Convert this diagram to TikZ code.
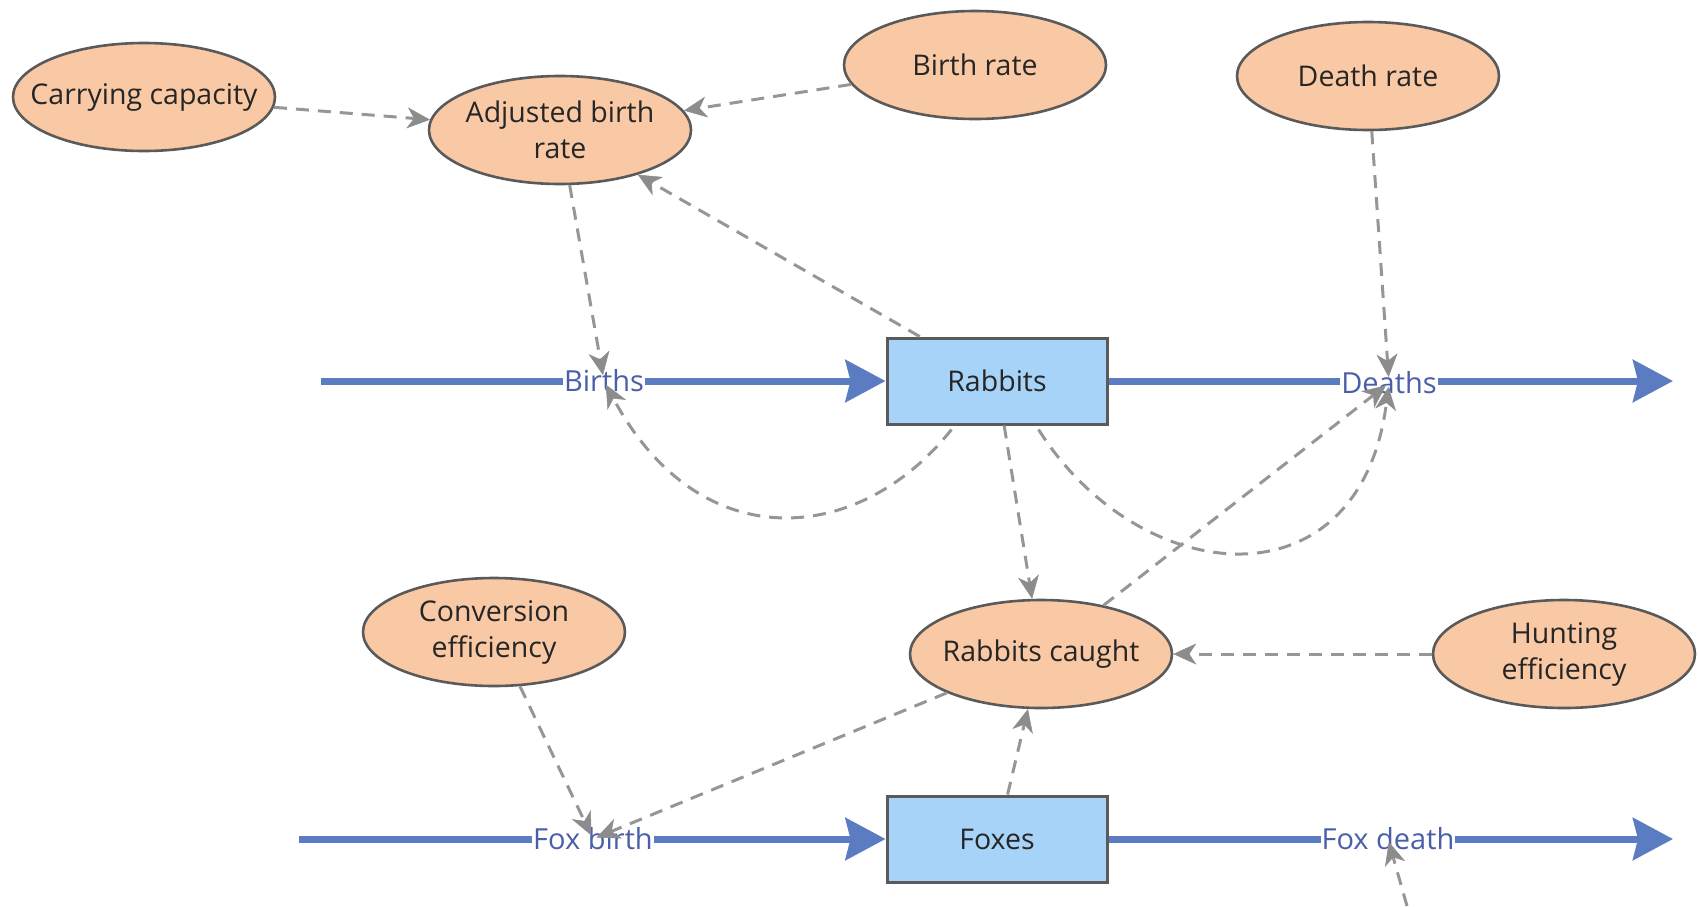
\documentclass[tikz,border=0pt]{standalone}
\usepackage{fontspec}
\setmainfont{Open Sans}
\usetikzlibrary{shapes.geometric,arrows.meta}
\definecolor{peach}{HTML}{F9C9A5}
\definecolor{edgegray}{HTML}{5A5A5A}
\definecolor{boxblue}{HTML}{A6D3F7}
\definecolor{flowblue}{HTML}{5B7CC0}
\definecolor{labelblue}{HTML}{4A5FA8}
\definecolor{linkgray}{HTML}{969696}
\definecolor{tipgray}{HTML}{8C8C8C}
\begin{document}
\begin{tikzpicture}[x=1pt,y=-1pt,
  varnode/.style={ellipse,draw=edgegray,fill=peach,line width=2.6pt,
    minimum width=262pt,minimum height=108pt,inner xsep=-45pt,inner ysep=-10pt,
    align=center,text=black!85,font=\fontsize{28.5}{36}\selectfont},
  stockbox/.style={rectangle,draw=edgegray,fill=boxblue,line width=3pt,
    minimum width=220pt,minimum height=86pt,text=black!85,
    font=\fontsize{28.5}{34}\selectfont},
  flowlabel/.style={fill=white,inner xsep=1pt,inner ysep=2pt,text=labelblue,
    font=\fontsize{29}{34}\selectfont},
  flowline/.style={draw=flowblue,line width=7pt,
    -{Stealth[length=40pt,width=42pt,inset=5pt]}},
  link/.style={draw=linkgray,line width=3pt,dash pattern=on 13pt off 9pt,
    -{Stealth[length=23pt,width=21pt,inset=7pt,color=tipgray,line width=0.5pt]}},
]
\useasboundingbox (0,0) rectangle (1698,906);

% stocks and flows (drawn first)
\node[stockbox] (rabbits) at (997,381) {Rabbits};
\node[stockbox] (foxes) at (997,839) {Foxes};
\coordinate (rsrc) at (321,381);
\coordinate (rsink) at (1673,381);
\coordinate (fsrc) at (299,839);
\coordinate (fsink) at (1673,839);
\coordinate (offbottom) at (1407,906);

\draw[flowline] (rsrc) -- (rabbits.west);
\draw[flowline] (rabbits.east) -- (rsink);
\draw[flowline] (fsrc) -- (foxes.west);
\draw[flowline] (foxes.east) -- (fsink);

\node[flowlabel] (births) at (604,381) {Births};
\node[flowlabel] (deaths) at (1389,383) {Deaths};
\node[flowlabel] (foxbirth) at (593,839) {Fox birth};
\node[flowlabel] (foxdeath) at (1388,839) {Fox death};

% variables
\node[varnode] (cc) at (144,97) {Carrying capacity};
\node[varnode] (abr) at (560,130) {Adjusted birth\\rate};
\node[varnode] (br) at (975,65) {Birth rate};
\node[varnode] (dr) at (1368,76) {Death rate};
\node[varnode] (ce) at (494,632) {Conversion\\efficiency};
\node[varnode] (rc) at (1041,654) {Rabbits caught};
\node[varnode] (he) at (1564,654) {Hunting\\efficiency};

% links
\draw[link] (cc) -- (abr);
\draw[link] (br) -- (abr);
\draw[link] (rabbits) -- (abr);
\draw[link,shorten >=6pt] (abr) -- (births.center);
\draw[link,shorten >=4pt] (rabbits.south west) ++(66,4) .. controls (860,545) and (700,560) .. (births.center);
\draw[link,shorten >=6pt] (dr) -- (deaths.center);
\draw[link,shorten >=4pt] (rabbits.south east) ++(-70,4) .. controls (1140,590) and (1360,610) .. (deaths.center);
\draw[link,shorten >=4pt] (rc) -- (deaths.center);
\draw[link] (rabbits) -- (rc);
\draw[link] (he) -- (rc);
\draw[link,shorten >=4pt] (ce) -- (foxbirth.center);
\draw[link,shorten >=4pt] (rc) -- (foxbirth.center);
\draw[link] (foxes) -- (rc);
\draw[link,shorten >=3pt] (offbottom) -- (foxdeath.center);
\end{tikzpicture}
\end{document}
